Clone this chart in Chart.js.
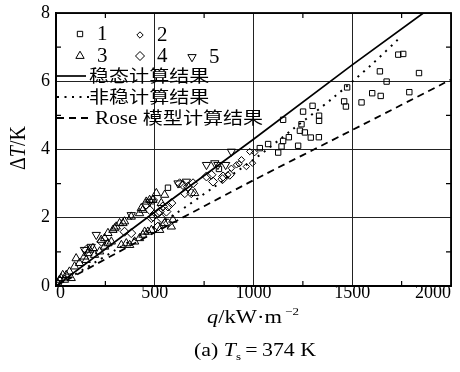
<!DOCTYPE html>
<html><head><meta charset="utf-8">
<script src="https://cdn.jsdelivr.net/npm/chart.js@4.4.0/dist/chart.umd.min.js"></script>
<style>html,body{margin:0;padding:0;background:#fff}#wrap{width:460px;height:372px}</style>
</head><body><div id="wrap"><canvas id="c" width="460" height="372"></canvas></div>
<script>
// ---- data (q in kW/m^2, dT in K) ----
const xTicks = [0, 500, 1000, 1500, 2000];
const yTicks = [0, 2, 4, 6, 8];
const legendNums = ['1', '2', '3', '4', '5'];
const lineLabels = ['稳态计算结果', '非稳计算结果', 'Rose 模型计算结果'];

const series1 = [[1733,6.78],[1758,6.80],[1640,6.29],[1838,6.24],[1674,5.99],[1474,5.82],[1601,5.65],[1644,5.57],[1789,5.68],[1547,5.38],[1459,5.41],[1468,5.26],[1299,5.28],[1332,4.99],[1332,4.84],[1251,5.11],[1243,4.74],[1235,4.55],[1260,4.50],[1290,4.35],[1331,4.36],[1179,4.36],[1150,4.87],[1150,4.25],[1142,4.09],[1125,3.91],[1226,4.11],[1074,4.16],[1032,4.04],[567,2.88],[825,3.43]];
const series2 = [[888,3.45],[939,3.70],[964,3.50],[995,3.60],[914,3.55],[981,3.94],[1006,3.91],[870,3.26],[927,3.58]];
const series3 = [[9,0.08],[26,0.23],[52,0.32],[68,0.42],[77,0.23],[94,0.57],[119,0.67],[153,0.76],[195,0.91],[221,1.01],[246,1.15],[263,1.25],[43,0.18],[144,0.86],[161,0.96],[187,1.11],[229,1.35],[263,1.55],[288,1.64],[305,1.74],[322,1.84],[381,2.03],[331,1.20],[356,1.25],[398,1.30],[423,1.40],[440,1.50],[465,1.59],[483,1.64],[525,1.64],[449,1.59],[584,1.74],[550,1.84],[457,2.47],[432,2.28],[440,2.23],[423,2.13],[347,1.89],[297,1.69],[592,1.94],[491,2.52],[533,2.43],[550,2.67],[508,2.72],[702,2.72],[474,2.52],[339,1.84],[246,1.40],[280,1.30],[170,1.06],[102,0.81],[34,0.32],[18,0.18],[373,1.20]];
const series4 = [[880,3.26],[843,3.13],[795,3.06],[787,3.26],[762,3.21],[694,3.01],[668,2.91],[643,2.96],[626,3.01],[685,2.72],[652,2.72],[584,2.43],[541,2.33],[559,2.18],[525,2.18],[491,2.03],[533,1.99],[567,1.84],[516,1.74],[474,2.23],[457,2.38],[491,2.52],[846,3.21],[516,2.13],[567,2.33],[483,1.99],[153,1.06],[347,1.59],[381,1.55],[230,1.30]];
const series5 = [[762,3.55],[804,3.60],[888,3.94],[618,3.01],[660,3.06],[474,2.47],[204,1.50],[144,1.06],[381,2.08],[178,1.15],[859,3.55],[820,3.55]];

const steadyLine = [[0,0],[500,2.17],[1000,4.3],[1500,6.48],[1860,8]];
const unsteadyLine = [[0,0],[300,1.05],[600,2.1],[800,2.9],[1000,3.7],[1200,4.6],[1400,5.5],[1600,6.5],[1740,7.27]];
const roseLine = [[0,0],[500,1.57],[1000,3.1],[1500,4.57],[2000,6.05]];

// ---- styles ----
const SERIF = '"Liberation Serif", "DejaVu Serif", serif';
const CJK = '"Noto Sans CJK SC", sans-serif';
const SX = 1.18;
const toXY = a => a.map(p => ({x: p[0], y: p[1]}));
const pstyle = [
  {pointStyle: 'rect', radius: 3.8, rotation: 0},
  {pointStyle: 'rectRot', radius: 3.2, rotation: 0},
  {pointStyle: 'triangle', radius: 4.8, rotation: 0},
  {pointStyle: 'rectRot', radius: 4.5, rotation: 0},
  {pointStyle: 'triangle', radius: 4.8, rotation: 180}
];
const seriesList = [series1, series2, series3, series4, series5];

const datasets = [];
datasets.push({type:'line', data: toXY(steadyLine), borderColor:'#000', borderWidth:1.7, pointRadius:0, fill:false, tension:0, order:0});
datasets.push({type:'line', data: toXY(unsteadyLine), borderColor:'#000', borderWidth:2, borderDash:[2,5.5], pointRadius:0, fill:false, tension:0.3, order:0});
datasets.push({type:'line', data: toXY(roseLine), borderColor:'#000', borderWidth:1.8, borderDash:[7,5], pointRadius:0, fill:false, tension:0.2, order:0});
seriesList.forEach((s, i) => {
  datasets.push({type:'scatter', label: legendNums[i], data: toXY(s), showLine:false,
    pointStyle: pstyle[i].pointStyle, pointRadius: pstyle[i].radius, pointRotation: pstyle[i].rotation,
    pointBorderColor:'#000', pointBackgroundColor:'rgba(0,0,0,0)', pointBorderWidth:1, order:1});
});

function drawRuns(ctx, parts, x, y, align, sx) {
  let w = 0;
  parts.forEach(p => { ctx.font = p.f; p.w = ctx.measureText(p.t).width; w += p.w; });
  ctx.save(); ctx.translate(x, y); ctx.scale(sx, 1);
  let cx = align === 'center' ? -w / 2 : 0;
  parts.forEach(p => { ctx.font = p.f; ctx.fillText(p.t, cx, p.dy || 0); cx += p.w; });
  ctx.restore();
}

const deco = {
  id: 'deco',
  afterDraw(chart) {
    const ctx = chart.ctx, a = chart.chartArea;
    const xs = chart.scales.x, ys = chart.scales.y;
    ctx.save();
    ctx.strokeStyle = '#000'; ctx.lineWidth = 1.8;
    ctx.strokeRect(a.left, a.top, a.right - a.left, a.bottom - a.top);
    ctx.lineWidth = 1.2;
    ctx.beginPath();
    for (let v = 250; v < 2000; v += 500) {
      const px = xs.getPixelForValue(v);
      ctx.moveTo(px, a.bottom); ctx.lineTo(px, a.bottom - 5);
      ctx.moveTo(px, a.top); ctx.lineTo(px, a.top + 5);
    }
    for (let v = 1; v < 8; v += 2) {
      const py = ys.getPixelForValue(v);
      ctx.moveTo(a.left, py); ctx.lineTo(a.left + 5, py);
      ctx.moveTo(a.right, py); ctx.lineTo(a.right - 5, py);
    }
    ctx.stroke();

    // legend markers
    const mk = [[80,34],[140,35],[80,56],[140,56],[192,57]];
    const nx = [97,157,97,157,209];
    mk.forEach((m, i) => {
      ctx.strokeStyle = '#000'; ctx.lineWidth = 1; ctx.fillStyle = 'rgba(0,0,0,0)';
      Chart.helpers.drawPoint(ctx, {pointStyle: pstyle[i].pointStyle, radius: pstyle[i].radius, rotation: pstyle[i].rotation, borderWidth: 1}, m[0], m[1]);
      ctx.fillStyle = '#000';
      ctx.textBaseline = 'middle';
      drawRuns(ctx, [{t: legendNums[i], f: '20px ' + SERIF}], nx[i], m[1] + 1, 'left', 1.05);
    });
    ctx.fillStyle = '#000';
    // legend lines
    ctx.strokeStyle = '#000';
    ctx.lineWidth = 1.7; ctx.setLineDash([]);
    ctx.beginPath(); ctx.moveTo(a.left, 76); ctx.lineTo(86, 76); ctx.stroke();
    ctx.lineWidth = 2; ctx.setLineDash([2, 5.5]);
    ctx.beginPath(); ctx.moveTo(a.left + 1, 97); ctx.lineTo(89, 97); ctx.stroke();
    ctx.lineWidth = 1.8; ctx.setLineDash([7, 5]);
    ctx.beginPath(); ctx.moveTo(a.left + 1, 118); ctx.lineTo(92, 118); ctx.stroke();
    ctx.setLineDash([]);
    ctx.textBaseline = 'middle';
    drawRuns(ctx, [{t: lineLabels[0], f: '17px ' + CJK}], 89, 76, 'left', SX);
    drawRuns(ctx, [{t: lineLabels[1], f: '17px ' + CJK}], 89, 97, 'left', SX);
    const rl = lineLabels[2].split(' ');
    drawRuns(ctx, [{t: rl[0] + ' ', f: '18px ' + SERIF, dy: 1}, {t: rl[1], f: '17px ' + CJK}], 95, 118, 'left', SX);

    // axis titles
    ctx.textBaseline = 'alphabetic';
    drawRuns(ctx, [
      {t: 'q', f: 'italic 19px ' + SERIF},
      {t: '/kW·m', f: '19px ' + SERIF},
      {t: ' \u22122', f: '11px ' + SERIF, dy: -8}
    ], 253, 323, 'center', SX);
    drawRuns(ctx, [
      {t: '(a) ', f: '18.5px ' + SERIF},
      {t: 'T', f: 'italic 18.5px ' + SERIF},
      {t: 's', f: '11px ' + SERIF, dy: 4},
      {t: '\u2009=\u2009374 K', f: '18.5px ' + SERIF}
    ], 255, 356, 'center', SX);
    // y title rotated
    ctx.save();
    ctx.translate(25, 148); ctx.rotate(-Math.PI / 2); ctx.scale(1, 1.15);
    drawRuns(ctx, [
      {t: '\u0394', f: '20px ' + SERIF},
      {t: 'T', f: 'italic 20px ' + SERIF},
      {t: '/K', f: '20px ' + SERIF}
    ], 0, 0, 'center', 1);
    ctx.restore();
    ctx.restore();
  }
};

new Chart(document.getElementById('c'), {
  type: 'scatter',
  data: { datasets },
  options: {
    responsive: false, animation: false, devicePixelRatio: 1,
    layout: { padding: { top: 13, right: 9, left: 0, bottom: 0 } },
    plugins: { legend: { display: false }, tooltip: { enabled: false } },
    scales: {
      x: {
        type: 'linear', min: 0, max: 2000,
        ticks: { stepSize: 250, color: '#000', font: { family: SERIF, size: 18, lineHeight: 1 }, padding: -2,
          maxRotation: 0, autoSkip: false, align: 'inner',
          callback: v => xTicks.includes(v) ? String(v) : '' },
        grid: { color: c => (c.tick && xTicks.includes(c.tick.value)) ? '#222' : 'rgba(0,0,0,0)', lineWidth: 1, drawTicks: false },
        border: { display: true, color: '#000', width: 1.8 },
        afterFit: s => { s.height = 86; s.paddingRight = 0; s.paddingLeft = 0; }
      },
      y: {
        type: 'linear', min: 0, max: 8,
        ticks: { stepSize: 1, color: '#000', font: { family: SERIF, size: 18 }, padding: 6,
          autoSkip: false,
          callback: v => yTicks.includes(v) ? String(v) : '' },
        grid: { color: c => (c.tick && yTicks.includes(c.tick.value)) ? '#222' : 'rgba(0,0,0,0)', lineWidth: 1, drawTicks: false },
        border: { display: true, color: '#000', width: 1.8 },
        afterFit: s => { s.width = 56; s.paddingTop = 0; s.paddingBottom = 0; }
      }
    }
  },
  plugins: [deco]
});
</script>
</body></html>
